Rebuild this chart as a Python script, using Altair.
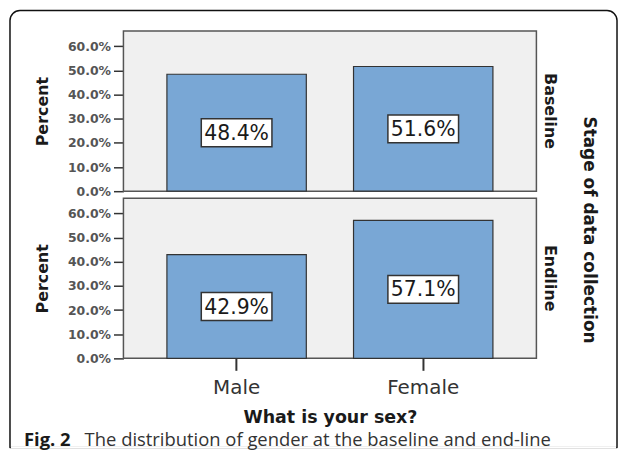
import altair as alt
import pandas as pd

# ---- data ----
sexes = ["Male", "Female"]
stages = ["Baseline", "Endline"]
baseline_pct = [0.484, 0.516]
endline_pct = [0.429, 0.571]
y_ticks = [0.0, 0.1, 0.2, 0.3, 0.4, 0.5, 0.6]

x_title = "What is your sex?"
y_title = "Percent"
row_title = "Stage of data collection"
caption_bold = "Fig. 2"
caption_text = "The distribution of gender at the baseline and end-line"

records = []
for stage, vals in zip(stages, [baseline_pct, endline_pct]):
    for s, v in zip(sexes, vals):
        records.append({"stage": stage, "sex": s, "pct": v})
df = pd.DataFrame(records)

FONT = "DejaVu Sans"
Y_DOMAIN = [0, 0.663]

x_axis = alt.Axis(
    title=x_title, labelAngle=0, domain=False, grid=False,
    tickSize=12, tickWidth=2, tickColor="#333",
    labelFont=FONT, labelFontSize=20, labelColor="#333", labelPadding=7,
    titleFont=FONT, titleFontSize=17.5, titleFontWeight="bold",
    titleColor="#1a1a1a", titlePadding=11,
)
y_axis = alt.Axis(
    title=y_title, values=y_ticks, format=".1%", domain=False, grid=False,
    labelOverlap=False,
    tickSize=10, tickWidth=1.5, tickColor="#333",
    labelFont=FONT, labelFontSize=12.5, labelFontWeight="bold",
    labelColor="#555", labelPadding=3,
    titleFont=FONT, titleFontSize=16, titleFontWeight="bold",
    titleColor="#1a1a1a", titlePadding=17,
)
x_scale = alt.Scale(paddingInner=0.253, paddingOuter=0.233)
y_scale = alt.Scale(domain=Y_DOMAIN, nice=False)

x_enc = alt.X("sex:N", sort=sexes, scale=x_scale, axis=x_axis)

bars = alt.Chart().mark_bar(
    fill="#79a7d5", stroke="#333", strokeWidth=1.2
).encode(x=x_enc, y=alt.Y("pct:Q", scale=y_scale, axis=y_axis))

label_y = alt.Y("mid:Q", scale=y_scale, axis=y_axis)

boxes = alt.Chart().transform_calculate(mid="datum.pct / 2").mark_point(
    shape="M-1,-0.394L1,-0.394L1,0.394L-1,0.394Z",
    size=71 * 71, filled=True, fill="white", fillOpacity=1, opacity=1,
    stroke="#333", strokeWidth=1.5,
).encode(x=x_enc, y=label_y)

labels = alt.Chart().transform_calculate(mid="datum.pct / 2").mark_text(
    font=FONT, fontSize=20.5, color="#1a1a1a", baseline="middle", align="center", dy=1,
).encode(x=x_enc, y=label_y, text=alt.Text("pct:Q", format=".1%"))

one = alt.Chart().transform_filter(
    "datum.stage == 'Endline' && datum.sex == 'Male'"
)

# decorative rounded figure frame around the whole figure (pixel offsets)
frame = one.mark_rect(
    fillOpacity=0, stroke="#111", strokeWidth=1.5, strokeJoin="round",
    cornerRadiusTopLeft=10, cornerRadiusTopRight=10, clip=False,
).encode(
    x=alt.value(-114), x2=alt.value(496),
    y=alt.value(-188.5), y2=alt.value(250.5),
)
# hide the frame's bottom edge (the original figure is cut off there)
frame_cover = one.mark_rect(fill="white", strokeWidth=0, clip=False).encode(
    x=alt.value(-113.1), x2=alt.value(495.1),
    y=alt.value(249.4), y2=alt.value(251.5),
)

cap1 = one.mark_text(
    text=caption_bold, font="Open Sans", fontSize=18.5, fontWeight="bold",
    color="#1a1a1a", align="left", baseline="alphabetic", clip=False,
).encode(x=alt.value(-100), y=alt.value(249))

cap2 = one.mark_text(
    text=caption_text, font="Open Sans", fontSize=18.5,
    color="#333", align="left", baseline="alphabetic", clip=False,
).encode(x=alt.value(-39), y=alt.value(249))

layered = alt.layer(
    bars, boxes, labels, frame, frame_cover, cap1, cap2, data=df
).properties(
    width=415, height=161,
    view=alt.ViewBackground(fill="#f0f0f0", stroke="#555", strokeWidth=1.5),
)

chart = layered.facet(
    row=alt.Row(
        "stage:N", sort=stages,
        header=alt.Header(
            title=row_title, titleOrient="right", titleAngle=90,
            titleFont=FONT, titleFontSize=17, titleFontWeight="bold",
            titleColor="#1a1a1a", titlePadding=11.5,
            labelOrient="right", labelAngle=90,
            labelFont=FONT, labelFontSize=16, labelFontWeight="bold",
            labelColor="#1a1a1a", labelPadding=6,
        ),
    ),
    spacing=7,
    bounds="flush",
).properties(
    padding={"left": 0, "top": 0, "right": 0, "bottom": 0},
).configure_view(
    fill="#f0f0f0", stroke="#555", strokeWidth=1.5
).configure(
    background="white",
    style={"cell": {"fill": "#f0f0f0", "stroke": "#555", "strokeWidth": 1.5}},
)

chart.save("out.html", embed_options={"renderer": "svg", "actions": False})
